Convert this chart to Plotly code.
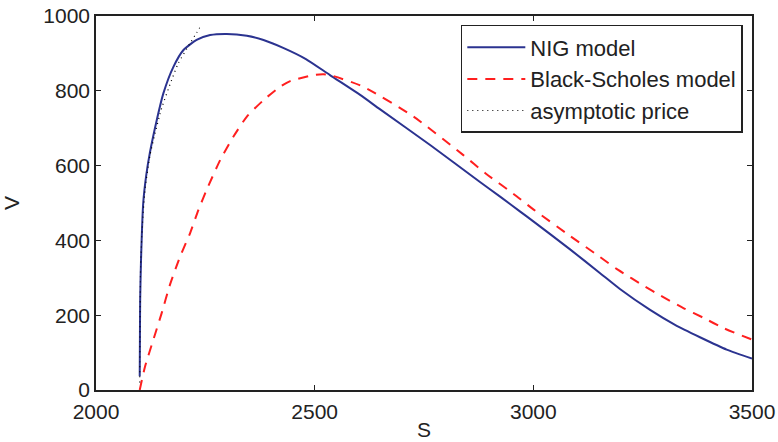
import plotly.graph_objects as go

# NIG model price curve (S, V)
nig_s = [2100, 2100.5, 2101, 2103, 2108, 2115, 2123, 2139, 2154, 2177, 2200, 2230,
         2261, 2299, 2345, 2383, 2428, 2480, 2535, 2604, 2649, 2764, 2878, 2924,
         2970, 3000, 3084, 3152, 3198, 3267, 3324, 3381, 3442, 3500]
nig_v = [37, 150, 241, 350, 500, 575, 633, 722, 793, 864, 909, 936,
         949, 952, 947, 936, 915, 885, 842, 789, 751, 655, 556, 517,
         477, 451, 376, 313, 270, 214, 174, 141, 108, 84]

# Black-Scholes price curve
bs_s = [2100, 2112, 2131, 2150, 2169, 2192, 2215, 2234, 2253, 2284, 2314, 2345,
        2383, 2421, 2444, 2497, 2520, 2535, 2611, 2726, 2840, 2891, 2954, 3000,
        3084, 3152, 3194, 3255, 3290, 3343, 3389, 3434, 3500]
bs_v = [0, 62, 134, 205, 281, 356, 419, 481, 535, 615, 677, 731,
        775, 811, 826, 842, 844, 842, 811, 731, 628, 579, 525, 483,
        412, 356, 321, 277, 253, 219, 193, 166, 135]

# asymptotic price near the barrier
asy_s = [2100, 2102, 2106, 2112, 2123, 2135, 2150, 2173, 2188, 2215, 2230, 2242]
asy_v = [20, 330, 440, 535, 625, 686, 753, 829, 873, 927, 955, 978]

font = "Liberation Sans, Arial, Helvetica, sans-serif"
ink = "#222222"

fig = go.Figure()
fig.add_trace(go.Scatter(x=nig_s, y=nig_v, mode="lines", name="NIG model",
                         line=dict(color="#2b3390", width=2, shape="spline", smoothing=0.6)))
fig.add_trace(go.Scatter(x=bs_s, y=bs_v, mode="lines", name="Black-Scholes model",
                         line=dict(color="#ff1f1f", width=2, dash="10px,8px",
                                   shape="spline", smoothing=0.6)))
fig.add_trace(go.Scatter(x=asy_s, y=asy_v, mode="lines", name="asymptotic price",
                         line=dict(color="black", width=1.2, dash="1px,4px",
                                   shape="spline", smoothing=0.6)))

axis_style = dict(showgrid=False, zeroline=False, showline=True, linecolor=ink,
                  linewidth=1.5, mirror="ticks", ticks="inside", ticklen=5,
                  tickcolor=ink, tickwidth=1.2,
                  tickfont=dict(size=21, color=ink, family=font))

fig.update_xaxes(range=[2000, 3500], tickvals=[2000, 2500, 3000, 3500],
                 ticklabelstandoff=2,
                 title=dict(text="S", font=dict(size=21, color=ink, family=font),
                            standoff=0),
                 **axis_style)
fig.update_yaxes(range=[0, 1000], tickvals=[0, 200, 400, 600, 800, 1000],
                 title=dict(text="V", font=dict(size=21, color=ink, family=font),
                            standoff=20),
                 **axis_style)

fig.update_layout(
    width=778, height=442,
    margin=dict(l=96, r=26, t=16, b=52, autoexpand=False),
    plot_bgcolor="white", paper_bgcolor="white",
    font=dict(family=font, size=21, color=ink),
    legend=dict(x=0.986, y=0.976, xanchor="right", yanchor="top",
                bordercolor=ink, borderwidth=1.5, bgcolor="white",
                font=dict(size=22, family=font, color=ink),
                itemwidth=58, tracegroupgap=0),
    showlegend=True,
)

fig.write_html("out.html", config={"displayModeBar": False},
               post_script="document.body.style.margin='0px';")
